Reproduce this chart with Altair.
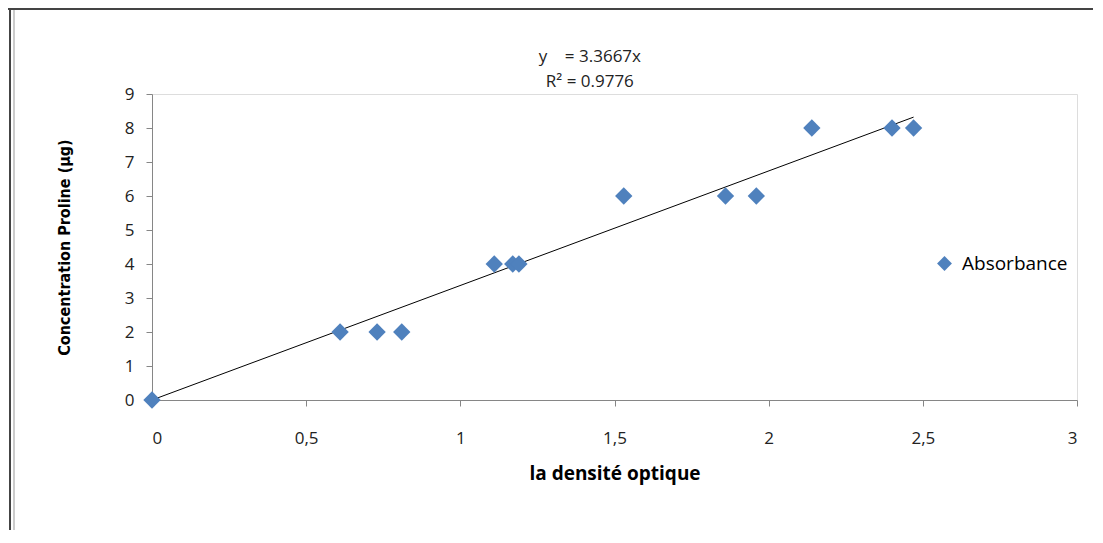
import altair as alt
import pandas as pd

# Data
densite = [0.0, 0.61, 0.73, 0.81, 1.11, 1.17, 1.19, 1.53, 1.86, 1.96, 2.14, 2.40, 2.47]
proline = [0, 2, 2, 2, 4, 4, 4, 6, 6, 6, 8, 8, 8]
trend_x = [0.0, 2.47]
trend_y = [0.0, 8.32]
x_ticks = [0, 0.5, 1, 1.5, 2, 2.5, 3]
y_ticks = [0, 1, 2, 3, 4, 5, 6, 7, 8, 9]
eq_text = ["y\u00a0\u00a0\u00a0\u00a0= 3.3667x", "R² = 0.9776"]
eq_x = [1.42, 1.42]
eq_y = [10.1, 9.36]

pts = pd.DataFrame({"x": densite, "y": proline, "series": ["Absorbance"] * len(densite)})
trend = pd.DataFrame({"x": trend_x, "y": trend_y})
eq = pd.DataFrame({"x": eq_x, "y": eq_y, "t": eq_text})

W, H = 925, 306
FONT = "Open Sans"
AXIS_COL = "#868686"

xscale = alt.Scale(domain=[0, 3], nice=False, zero=False)
yscale = alt.Scale(domain=[0, 9], nice=False, zero=False)

xaxis = alt.Axis(
    values=x_ticks,
    labelExpr="replace(toString(datum.value), '.', ',')",
    title="la densité optique",
    titleFont=FONT, titleFontSize=19, titleFontWeight="bold", titleColor="#000",
    titlePadding=18,
    labelFont=FONT, labelFontSize=17, labelColor="#222", labelPadding=24,
    labelOverlap=False,
    domainColor=AXIS_COL, tickColor=AXIS_COL, tickSize=6, grid=False,
)
yaxis = alt.Axis(
    values=y_ticks,
    title="Concentration Proline (µg)",
    titleFont="DejaVu Sans Condensed", titleFontSize=16, titleFontWeight="bold", titleColor="#000",
    titlePadding=52,
    labelFont=FONT, labelFontSize=17, labelColor="#222", labelPadding=12,
    labelOverlap=False,
    domainColor=AXIS_COL, tickColor=AXIS_COL, tickSize=6, grid=False,
)

X = alt.X("x:Q", scale=xscale, axis=xaxis)
Y = alt.Y("y:Q", scale=yscale, axis=yaxis)

line = alt.Chart(trend).mark_line(color="#000", strokeWidth=1).encode(x=X, y=Y)

points = alt.Chart(pts).mark_point(shape="diamond", filled=True, opacity=1, size=300).encode(
    x=X,
    y=Y,
    color=alt.Color(
        "series:N",
        scale=alt.Scale(range=["#4F81BD"]),
        legend=alt.Legend(
            title=None, orient="none", legendX=783, legendY=160,
            symbolType="diamond", symbolSize=220, symbolStrokeWidth=0,
            labelFont=FONT, labelFontSize=19, labelColor="#000", labelOffset=8,
        ),
    ),
)

equation = alt.Chart(eq).mark_text(
    font=FONT, fontSize=17, color="#222", align="center", baseline="middle", clip=False
).encode(x=X, y=Y, text="t:N")

border_top = alt.Chart(pd.DataFrame({"a": [0]})).mark_rule(color="#444", strokeWidth=2).encode(
    x=alt.value(-144), x2=alt.value(W + 30), y=alt.value(-85)
)
border_left = alt.Chart(pd.DataFrame({"a": [0]})).mark_rule(color="#444", strokeWidth=2).encode(
    x=alt.value(-142), y=alt.value(-86), y2=alt.value(H + 200)
)
border_left2 = alt.Chart(pd.DataFrame({"a": [0]})).mark_rule(color="#999", strokeWidth=1).encode(
    x=alt.value(-138), y=alt.value(-84), y2=alt.value(H + 200)
)

chart = alt.layer(line, points, equation, border_top, border_left, border_left2).properties(
    width=W, height=H,
    autosize=alt.AutoSizeParams(type="none"),
    padding={"left": 144, "top": 86, "right": 16, "bottom": 130},
).configure_view(stroke=None).configure(background="white")

chart.save("out.html", embed_options={"renderer": "svg", "actions": False})
